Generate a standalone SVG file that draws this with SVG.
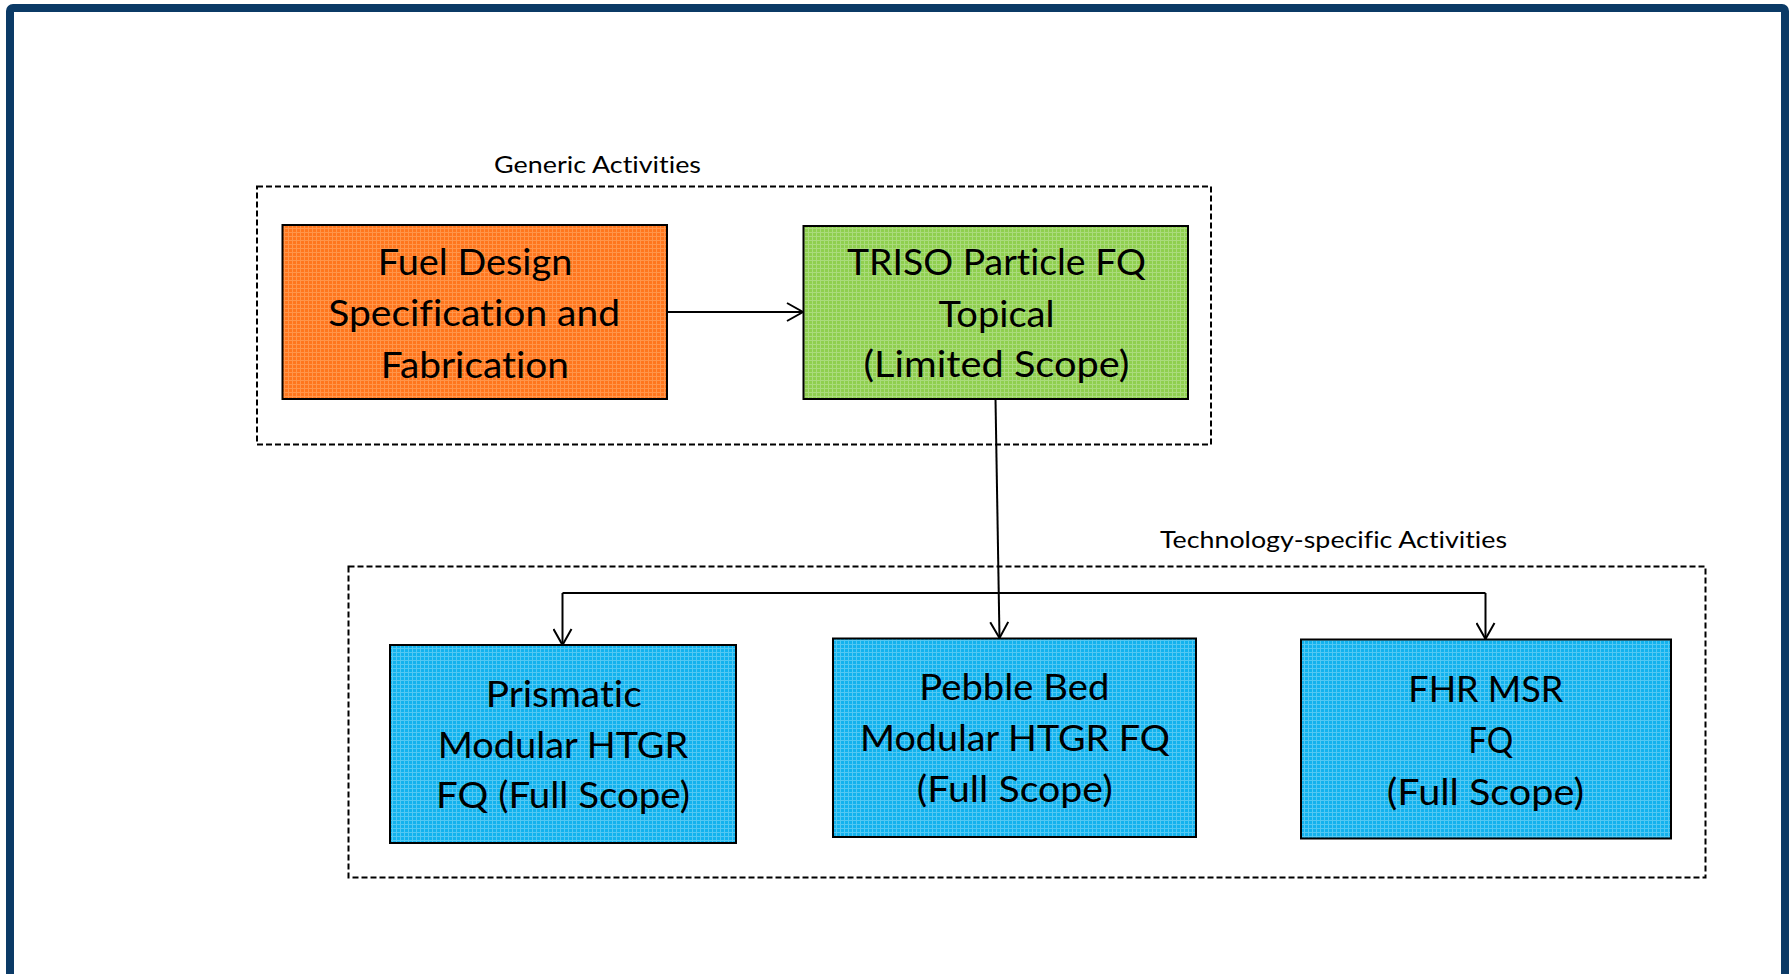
<svg xmlns="http://www.w3.org/2000/svg" width="1792" height="974" viewBox="0 0 1792 974">
  <style>
    .frame { fill: #ffffff; stroke: #0b3a66; stroke-width: 8; }
    .group { fill: none; stroke: #000000; stroke-width: 2; stroke-dasharray: 6 3; }
    .box { stroke: #000000; stroke-width: 2; }
    text { font-variant-ligatures: none; font-feature-settings: "liga" 0, "dlig" 0; }
    .label { font-family: Lato, "Liberation Sans", sans-serif; font-size: 24px; fill: #000000; }
    .title { font-family: Lato, "Liberation Sans", sans-serif; font-size: 37px; fill: #000000; }
    .link { fill: none; stroke: #000000; stroke-width: 2; }
  </style>
  <defs>
    <pattern id="meshOrange" width="4" height="4" patternUnits="userSpaceOnUse">
      <rect width="4" height="4" fill="#ff761d"/>
      <path d="M0 0.5H4M0.5 0V4" stroke="#ff954a" stroke-width="1"/>
    </pattern>
    <pattern id="meshGreen" width="4" height="4" patternUnits="userSpaceOnUse">
      <rect width="4" height="4" fill="#8fcf4e"/>
      <path d="M0 0.5H4M0.5 0V4" stroke="#aadb7c" stroke-width="1"/>
    </pattern>
    <pattern id="meshBlue" width="4" height="4" patternUnits="userSpaceOnUse">
      <rect width="4" height="4" fill="#12b2ee"/>
      <path d="M0 0.5H4M0.5 0V4" stroke="#52c8f3" stroke-width="1"/>
    </pattern>
    <marker id="openArrow" viewBox="0 0 20 20" refX="18" refY="10" markerWidth="20" markerHeight="20" markerUnits="userSpaceOnUse" orient="auto">
      <path d="M2,1 L18,10 L2,19" fill="none" stroke="#000000" stroke-width="2"/>
    </marker>
  </defs>

  <!-- outer frame -->
  <rect class="frame" x="10" y="8" width="1775" height="970" rx="3"/>

  <!-- activity groupings -->
  <g id="generic-activities">
    <rect class="group" x="257" y="186.5" width="954" height="258"/>
    <text class="label" x="494" y="173" textLength="207" lengthAdjust="spacingAndGlyphs">Generic Activities</text>
  </g>
  <g id="technology-specific-activities">
    <rect class="group" x="348.5" y="566.5" width="1357" height="311"/>
    <text class="label" x="1160" y="548" textLength="347" lengthAdjust="spacingAndGlyphs">Technology-specific Activities</text>
  </g>

  <!-- connectors -->
  <g id="connectors">
    <path class="link" d="M667,312 L803,312" marker-end="url(#openArrow)"/>
    <path class="link" d="M995.5,399 L999.5,638" marker-end="url(#openArrow)"/>
    <path class="link" d="M562.5,593 H1485.5"/>
    <path class="link" d="M562.5,593 V645" marker-end="url(#openArrow)"/>
    <path class="link" d="M1485.5,593 V639" marker-end="url(#openArrow)"/>
  </g>

  <!-- nodes -->
  <g id="fuel-design">
    <rect class="box" x="282.5" y="225" width="384.5" height="174" fill="url(#meshOrange)"/>
    <text class="title" x="377.7" y="275" textLength="194.6" lengthAdjust="spacingAndGlyphs">Fuel Design</text>
    <text class="title" x="328.3" y="326" textLength="291.7" lengthAdjust="spacingAndGlyphs">Specification and</text>
    <text class="title" x="380.7" y="377.5" textLength="188.3" lengthAdjust="spacingAndGlyphs">Fabrication</text>
  </g>
  <g id="triso-topical">
    <rect class="box" x="803.5" y="226" width="384.5" height="173" fill="url(#meshGreen)"/>
    <text class="title" x="847" y="275" textLength="299" lengthAdjust="spacingAndGlyphs">TRISO Particle FQ</text>
    <text class="title" x="938.5" y="326.5" textLength="116" lengthAdjust="spacingAndGlyphs">Topical</text>
    <text class="title" x="863.5" y="376.5" textLength="266" lengthAdjust="spacingAndGlyphs">(Limited Scope)</text>
  </g>
  <g id="prismatic-htgr">
    <rect class="box" x="390" y="645" width="346" height="198" fill="url(#meshBlue)"/>
    <text class="title" x="485.7" y="707.3" textLength="156" lengthAdjust="spacingAndGlyphs">Prismatic</text>
    <text class="title" x="437.7" y="758.3" textLength="250.6" lengthAdjust="spacingAndGlyphs">Modular HTGR</text>
    <text class="title" x="436" y="808.3" textLength="254" lengthAdjust="spacingAndGlyphs">FQ (Full Scope)</text>
  </g>
  <g id="pebble-bed-htgr">
    <rect class="box" x="833" y="638.5" width="363" height="198.5" fill="url(#meshBlue)"/>
    <text class="title" x="919.3" y="700" textLength="190" lengthAdjust="spacingAndGlyphs">Pebble Bed</text>
    <text class="title" x="860" y="751" textLength="310" lengthAdjust="spacingAndGlyphs">Modular HTGR FQ</text>
    <text class="title" x="916.7" y="801.7" textLength="196" lengthAdjust="spacingAndGlyphs">(Full Scope)</text>
  </g>
  <g id="fhr-msr">
    <rect class="box" x="1301" y="639.5" width="370" height="199" fill="url(#meshBlue)"/>
    <text class="title" x="1408.3" y="701.7" textLength="155" lengthAdjust="spacingAndGlyphs">FHR MSR</text>
    <text class="title" x="1468.3" y="753.3" textLength="45" lengthAdjust="spacingAndGlyphs">FQ</text>
    <text class="title" x="1386.7" y="805" textLength="197.3" lengthAdjust="spacingAndGlyphs">(Full Scope)</text>
  </g>
</svg>
